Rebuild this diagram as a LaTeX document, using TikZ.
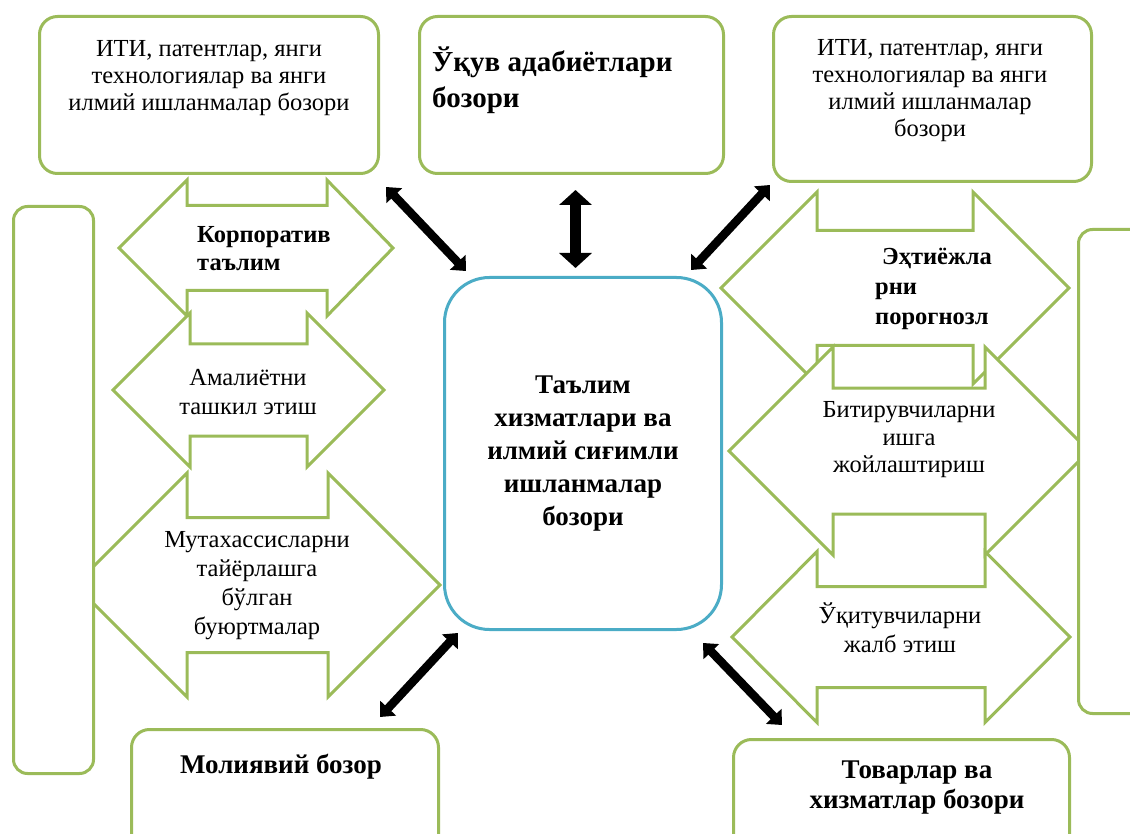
\documentclass[tikz,border=0pt]{standalone}
\usepackage{fontspec}
\setmainfont{Liberation Serif}
\usetikzlibrary{arrows.meta,positioning,calc}
\definecolor{Leaf}{HTML}{9BBB59}
\definecolor{Sky}{HTML}{4BACC6}
\tikzset{
 box/.style={draw=Leaf,line width=3pt,fill=white,rounded corners=18pt,inner sep=0pt,anchor=north west},
 hubbox/.style={box,draw=Sky,rounded corners=45pt,align=center,font=\bfseries\fontsize{27}{32.8}\selectfont},
 twoway/.style={draw=Leaf,line width=3pt,fill=white,line join=miter},
 txt/.style={align=center,inner sep=0pt,font=\fontsize{24.5}{27}\selectfont},
 btxt/.style={txt,font=\bfseries\fontsize{27}{30}\selectfont},
 link/.style={{Triangle[width=21pt,length=12pt]}-{Triangle[width=21pt,length=12pt]},line width=8.5pt},
 biglink/.style={{Triangle[width=32pt,length=15pt]}-{Triangle[width=32pt,length=15pt]},line width=11pt}
}
\begin{document}
\begin{tikzpicture}[x=1pt,y=-1pt]
\useasboundingbox (0,0) rectangle (1130,834);
\clip (0,0) rectangle (1130,834);
% two-way arrows: left tip / shaft left / shaft right / right tip / middle / shaft half / head half
\foreach \xl/\xa/\xb/\xr/\c/\s/\h in {119/187/327/393/248/42.5/68, 113/190/307/384/390/46/77, 75/187/328/440/585/67.5/112,
  721/817/973/1069/288/57.5/96, 729/833/985/1089/451/63/104, 732/817/985/1070/637/50.5/85.5}
  \draw[twoway] (\xl,\c) -- (\xa,\c-\h) -- (\xa,\c-\s) -- (\xb,\c-\s) -- (\xb,\c-\h) -- (\xr,\c)
    -- (\xb,\c+\h) -- (\xb,\c+\s) -- (\xa,\c+\s) -- (\xa,\c+\h) -- cycle;
% outer markets
\node[box,rounded corners=14pt,minimum width=80pt,minimum height=567pt] (leftbar) at (12,205) {};
\node[box,rounded corners=14pt,minimum width=90pt,minimum height=484pt] (rightbar) at (1077,228) {};
\node[box,minimum width=339pt,minimum height=157pt] (itiL) at (38,15) {};
\node[box,minimum width=304pt,minimum height=157pt] (ucuv) at (418,15) {};
\node[box,minimum width=318pt,minimum height=165pt] (itiR) at (772,15) {};
\node[box,minimum width=307pt,minimum height=140pt] (molia) at (130,728) {};
\node[box,minimum width=336pt,minimum height=130pt] (tovar) at (732,738) {};
\node[hubbox,minimum width=277pt,minimum height=352pt] (hub) at (443,276) {Таълим\\хизматлари ва\\илмий сиғимли\\ишланмалар\\бозори};
% links to the hub
\draw[link] ($(itiL.south east)+(6,12)$) -- ($(hub.north west)+(23,-5)$);
\draw[biglink] ($(ucuv.south)+(4,15)$) -- ($(hub.north)+(-7.5,-8)$);
\draw[link] ($(itiR.south west)+(-2,2)$) -- ($(hub.north east)+(-32,-6)$);
\draw[link] ($(hub.south west)+(15,2)$) -- ($(molia.north east)+(-60,-11)$);
\draw[link] ($(hub.south east)+(-20,12)$) -- ($(tovar.north west)+(50,-13)$);
% texts
\node[txt] (itiL-t) at (209,78) {ИТИ, патентлар, янги\\технологиялар ва янги\\илмий ишланмалар бозори};
\node[btxt,align=left,anchor=west,font=\bfseries\fontsize{29}{36}\selectfont] (ucuv-t) at (432,80) {Ўқув адабиётлари\\бозори};
\node[txt] (itiR-t) at (930,91) {ИТИ, патентлар, янги\\технологиялар ва янги\\илмий ишланмалар\\бозори};
\node[btxt,align=left,anchor=west,font=\bfseries\fontsize{24.5}{28}\selectfont] (korp-t) at (197,249) {Корпоратив\\таълим};
\node[txt,font=\fontsize{24.5}{29}\selectfont] (amal-t) at (248,392) {Амалиётни\\ташкил этиш};
\node[txt,font=\fontsize{24.5}{29}\selectfont] (mutax-t) at (257,586) {Мутахассисларни\\тайёрлашга\\бўлган\\буюртмалар};
\node[btxt,align=left,anchor=west,font=\bfseries\fontsize{24.5}{30}\selectfont] (extiyoj-t) at (875,289) {\hspace*{7pt}Эҳтиёжла\\рни\\порогнозл};
\node[txt,font=\fontsize{24.5}{27.5}\selectfont] (bitir-t) at (909,440) {Битирувчиларни\\ишга\\жойлаштириш};
\node[txt,font=\fontsize{24.5}{29}\selectfont] (ukit-t) at (900,627.5) {Ўқитувчиларни\\жалб этиш};
\node[btxt] (molia-t) at (281,767) {Молиявий бозор};
\node[btxt] (tovar-t) at (917,788) {Товарлар ва\\хизматлар бозори};
\end{tikzpicture}
\end{document}
